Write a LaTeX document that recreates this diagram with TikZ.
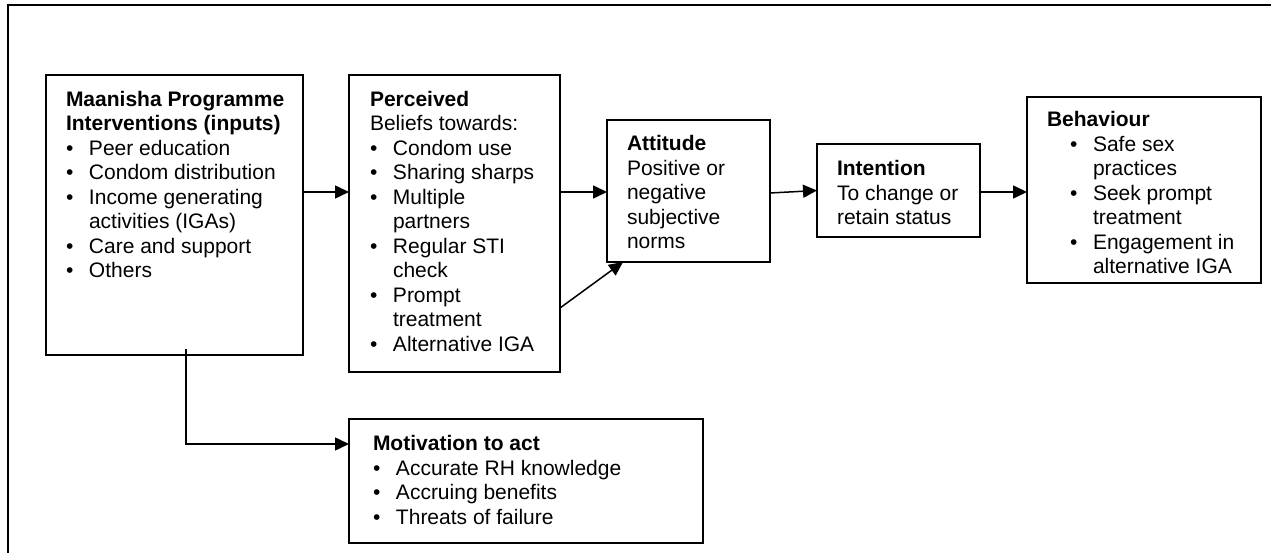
\documentclass[tikz,border=0pt]{standalone}
\usepackage{fontspec}
\setmainfont{Liberation Sans}
\usetikzlibrary{arrows.meta,calc}
\newcommand{\fstrut}{\rule{0pt}{18pt}}
\newcommand{\itm}[1]{\makebox[23pt][l]{\textbullet}#1}
\newcommand{\cont}[1]{\makebox[23pt][l]{}#1}
\tikzset{
  boxnode/.style={draw, line width=1.5pt, inner sep=0pt, outer sep=0pt, anchor=north west},
  txt/.style={inner sep=0pt, outer sep=0pt, anchor=north west, align=left, font=\fontsize{21}{24.5}\selectfont},
  arr/.style={line width=1.5pt, -{Triangle[length=14pt,width=13pt]}}
}
\begin{document}
\begin{tikzpicture}[x=1pt,y=-1pt]
\useasboundingbox (0,0) rectangle (1271,553);
\draw[line width=2.2pt] (8,553) -- (8,5) -- (1271,5);

% boxes
\node[boxnode, minimum width=257pt, minimum height=280pt] (A) at (46,75) {};
\node[boxnode, minimum width=211pt, minimum height=297pt] (B) at (349,75) {};
\node[boxnode, minimum width=163pt, minimum height=142pt] (C) at (607,120) {};
\node[boxnode, minimum width=163pt, minimum height=93pt] (D) at (817,144) {};
\node[boxnode, minimum width=234pt, minimum height=186pt] (E) at (1027,97) {};
\node[boxnode, minimum width=354pt, minimum height=124pt] (F) at (349,419) {};

% texts
\node[txt] (tA) at (66,88) {\fstrut\textbf{Maanisha Programme}\\\textbf{Interventions (inputs)}\\\itm{Peer education}\\\itm{Condom distribution}\\\itm{Income generating}\\\cont{activities (IGAs)}\\\itm{Care and support}\\\itm{Others}};
\node[txt] (tB) at (370,88) {\fstrut\textbf{Perceived}\\Beliefs towards:\\\itm{Condom use}\\\itm{Sharing sharps}\\\itm{Multiple}\\\cont{partners}\\\itm{Regular STI}\\\cont{check}\\\itm{Prompt}\\\cont{treatment}\\\itm{Alternative IGA}};
\node[txt] (tC) at (627,132.5) {\fstrut\textbf{Attitude}\\Positive or\\negative\\subjective\\norms};
\node[txt] (tD) at (837,158) {\fstrut\textbf{Intention}\\To change or\\retain status};
\node[txt] (tE) at (1047,108.5) {\fstrut\textbf{Behaviour}\\\hspace{23pt}\itm{Safe sex}\\\hspace{23pt}\cont{practices}\\\hspace{23pt}\itm{Seek prompt}\\\hspace{23pt}\cont{treatment}\\\hspace{23pt}\itm{Engagement in}\\\hspace{23pt}\cont{alternative IGA}};
\node[txt] (tF) at (373,432.5) {\fstrut\textbf{Motivation to act}\\\itm{Accurate RH knowledge}\\\itm{Accruing benefits}\\\itm{Threats of failure}};

% connectors
\coordinate (r1) at (0,192);
\coordinate (r2) at (0,308);
\coordinate (r3) at (0,444);
\coordinate (xv) at (186,0);
\draw[arr] (A.east |- r1) -- (B.west |- r1);
\draw[arr] (B.east |- r1) -- (C.west |- r1);
\draw[arr] (B.east |- r2) -- ($(C.south west)+(16,0)$);
\draw[arr] ([yshift=-1pt]C.east |- r1) -- ([yshift=1.5pt]D.west |- r1);
\draw[arr] (D.east |- r1) -- (E.west |- r1);
\draw[arr] ([yshift=6pt]A.south -| xv) |- (F.west |- r3);
\end{tikzpicture}
\end{document}
